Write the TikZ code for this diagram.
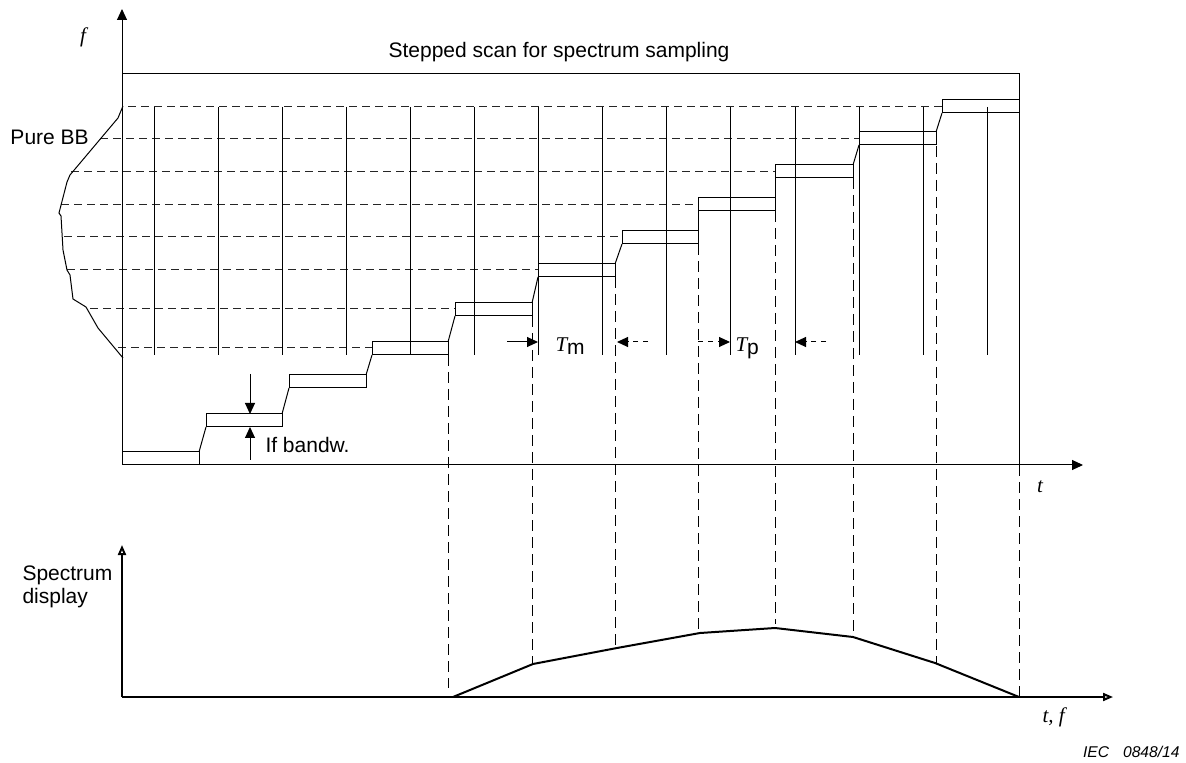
\documentclass[tikz,border=0pt]{standalone}
\usepackage{fontspec}
\setmainfont{Liberation Sans}
\newfontfamily\tms{Liberation Serif}
\usetikzlibrary{arrows.meta}
\begin{document}
\begin{tikzpicture}[x=0.5pt,y=-0.5pt,line width=0.5pt,
  lbl/.style={inner sep=0pt,font=\fontsize{10.5}{12.6}\selectfont},
  hdash/.style={dash pattern=on 4pt off 2.5pt,black!85},
  vdash/.style={dash pattern=on 5.5pt off 3pt},
  sdash/.style={dash pattern=on 2.5pt off 2.5pt},
  tip/.style={-{Triangle[length=5.5pt,width=5pt]}},
  otip/.style={-{Triangle[open,length=5pt,width=4pt]}},
  thick axis/.style={line width=1pt}]
\useasboundingbox (0,0) rectangle (1186,763);

% horizontal dashed levels
\foreach \xa/\xb/\yy in {128/942/107, 100/859/139, 71/775/172, 61/698/205, 64/622/237, 67/538/270, 90/455/309, 118/372/348}
  \draw[hdash] (\xa,\yy) -- (\xb,\yy);

% sampling lines
\foreach \i in {0,...,13}
  \draw ({154+64.1*\i},107) -- ({154+64.1*\i},355);

% step boxes
\foreach \xa/\xb/\yt in {122/199/452, 206/282/414, 289/366/375, 372/448/342, 455/532/303, 538/615/264, 622/698/231, 698/775/198, 775/853/165, 859/936/132, 942/1019/100}
  \draw (\xa,\yt) rectangle (\xb,{\yt+13});
% transitions
\draw (199,452) -- (206,427);
\draw (282,414) -- (289,388);
\draw (366,375) -- (372,355);
\draw (448,342) -- (455,316);
\draw (532,303) -- (538,277);
\draw (615,264) -- (622,244);
\draw (698,231) -- (698,211);
\draw (775,198) -- (775,178);
\draw (853,165) -- (859,145);
\draw (936,132) -- (942,113);

% frame
\draw (122,74) -- (1019,74) -- (1019,465);
% top axes
\draw[tip] (122,465) -- (122,9);
\draw[tip] (122,465) -- (1083,465);

% Pure BB curve
\draw (123,106) -- (118,118) -- (70,175) -- (67,182) -- (59,213) -- (61,216) -- (63,250) -- (67,270) -- (70,275) -- (73,299) -- (86,307) -- (98,328) -- (123,358);

% drop lines
\foreach \xx/\ya/\yb in {448/355/688, 532/316/664, 615/277/650, 698/244/633, 775/211/624, 853/178/637, 936/146/663, 1019/465/697}
  \draw[vdash] (\xx,\ya) -- (\xx,\yb);

% bottom chart
\draw[thick axis,otip] (122,697) -- (122,545);
\draw[thick axis,otip] (122,697) -- (1113,697);
\draw[thick axis,line join=round] (453,697) -- (533,664) -- (617,648) -- (700,633) -- (775,628) -- (853,637) -- (935,663) -- (1019,697);

% Tm / Tp arrows
\draw[tip] (507,342) -- (538,342);
\draw[tip,sdash] (648,342) -- (617,342);
\draw[tip,sdash] (698,342) -- (730,342);
\draw[tip,sdash] (826,342) -- (795,342);
% IF bandwidth arrows
\draw[tip] (250,374) -- (250,414);
\draw[tip] (250,460) -- (250,427);

% labels
\node[lbl,anchor=base] (title) at (559,58) {Stepped scan for spectrum sampling};
\node[lbl,anchor=base] (flab) at (83,43) {\tms\itshape f};
\node[lbl,anchor=base west] (pure) at (10,145) {Pure BB};
\node[lbl,anchor=base west] (tm) at (555,352) {{\tms\itshape T}\raisebox{-1.5pt}{m}};
\node[lbl,anchor=base west] (tp) at (735,352) {{\tms\itshape T}\raisebox{-1.5pt}{p}};
\node[lbl,anchor=base west] (ifbw) at (265,453) {If bandw.};
\node[lbl,anchor=base] (tlab) at (1040,493) {\tms\itshape t};
\node[lbl,anchor=base west] (spec1) at (22,580) {Spectrum};
\node[lbl,anchor=base west] (spec2) at (22,603) {display};
\node[lbl,anchor=base west] (tflab) at (1042,722) {\tms\itshape t, f};
\node[inner sep=0pt,anchor=base east,font=\fontsize{7.8}{9}\selectfont\itshape] (iec) at (1180,757) {IEC\hspace{0.9em}0848/14};
\end{tikzpicture}
\end{document}
